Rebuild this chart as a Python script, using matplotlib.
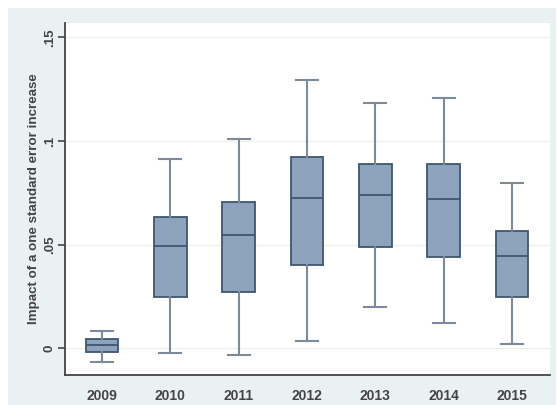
import matplotlib
matplotlib.use("Agg")
import matplotlib.pyplot as plt
from matplotlib.patches import Rectangle

years = ["2009", "2010", "2011", "2012", "2013", "2014", "2015"]
whislo = [-0.0068, -0.0024, -0.0034, 0.0034, 0.0198, 0.0121, 0.0019]
q1 = [-0.0019, 0.0246, 0.0270, 0.0401, 0.0488, 0.0440, 0.0246]
med = [0.0014, 0.0493, 0.0546, 0.0725, 0.0739, 0.0720, 0.0444]
q3 = [0.0043, 0.0633, 0.0705, 0.0923, 0.0889, 0.0889, 0.0565]
whishi = [0.0082, 0.0913, 0.1010, 0.1295, 0.1183, 0.1208, 0.0797]

plt.rcParams["font.family"] = ["Liberation Sans", "DejaVu Sans"]

fig = plt.figure(figsize=(5.58, 4.05), dpi=100)
fig.patch.set_facecolor("white")
# stata-style light outer panel
fig.patches.append(Rectangle((8 / 558, 0), 548 / 558, 397 / 405,
                             transform=fig.transFigure, facecolor="#eaf1f3",
                             edgecolor="none", zorder=-10))

ax = fig.add_axes([65 / 558, 30 / 405, 485 / 558, 352 / 405])
ax.set_facecolor("white")

stats = []
for i, y in enumerate(years):
    stats.append(dict(label=y, whislo=whislo[i], q1=q1[i], med=med[i],
                      q3=q3[i], whishi=whishi[i], fliers=[]))

ax.bxp(stats, positions=range(1, len(years) + 1), widths=0.48,
       patch_artist=True, showfliers=False,
       boxprops=dict(facecolor="#8da2bb", edgecolor="#3f5670", linewidth=1.3),
       medianprops=dict(color="#3f5670", linewidth=1.3),
       whiskerprops=dict(color="#7d8b98", linewidth=1.5),
       capprops=dict(color="#7d8b98", linewidth=1.5),
       capwidths=0.32)

ax.set_xlim(0.46, 7.555)
ax.set_ylim(-0.0130, 0.157)

ticks = [0, 0.05, 0.1, 0.15]
ax.set_yticks(ticks)
ax.set_yticklabels(["0", ".05", ".1", ".15"], rotation=90, va="center",
                   fontsize=9.5, color="#444444", fontweight="bold")
ax.yaxis.grid(True, color="#eef0ec", linewidth=1.0)
ax.set_axisbelow(True)
ax.tick_params(axis="y", length=5, width=1.2, color="#444444", pad=1.5)
ax.tick_params(axis="x", length=0, pad=10, labelsize=10, labelcolor="#444444")
for lbl in ax.get_xticklabels():
    lbl.set_fontweight("bold")

for side in ["top", "right"]:
    ax.spines[side].set_visible(False)
for side in ["left", "bottom"]:
    ax.spines[side].set_color("#444444")
    ax.spines[side].set_linewidth(1.3)

ax.set_ylabel("Impact of a one standard error increase", fontsize=9.6,
              color="#444444", fontweight="bold", labelpad=3)

fig.savefig("out.png", dpi=100, facecolor=fig.get_facecolor())
